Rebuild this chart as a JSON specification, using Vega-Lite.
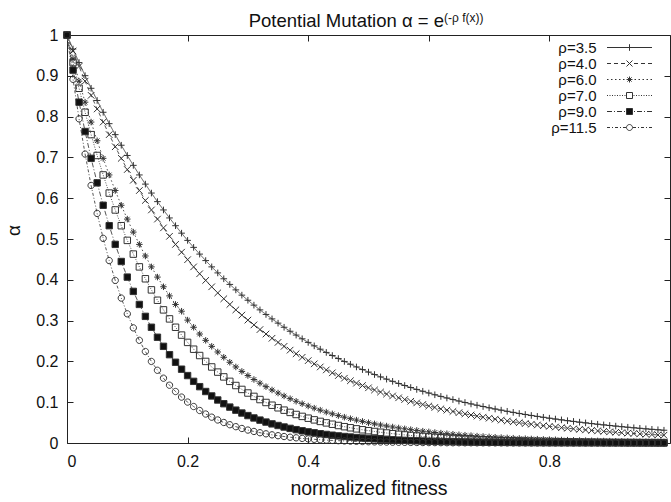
{
"$schema":"https://vega.github.io/schema/vega-lite/v6.json",
"width":603,"height":408,
"autosize":{"type":"none"},
"padding":{"left":67,"top":35,"right":1,"bottom":59},
"config":{
 "font":"Liberation Sans",
 "view":{"stroke":"#222","strokeWidth":1},
 "axis":{"grid":false,"domain":false,"tickColor":"#222","tickWidth":1,"tickSize":-6,"labelFontSize":16,"labelColor":"#111","titleFontWeight":"normal","titleFontSize":19.5,"titleColor":"#111"}
},
"data":{"values":[
{"s":"ρ=3.5","x":0,"y":1},{"s":"ρ=3.5","x":0.01,"y":0.9656},{"s":"ρ=3.5","x":0.02,"y":0.9324},{"s":"ρ=3.5","x":0.03,"y":0.9003},{"s":"ρ=3.5","x":0.04,"y":0.8694},{"s":"ρ=3.5","x":0.05,"y":0.8395},{"s":"ρ=3.5","x":0.06,"y":0.8106},{"s":"ρ=3.5","x":0.07,"y":0.7827},{"s":"ρ=3.5","x":0.08,"y":0.7558},{"s":"ρ=3.5","x":0.09,"y":0.7298},
{"s":"ρ=3.5","x":0.1,"y":0.7047},{"s":"ρ=3.5","x":0.11,"y":0.6805},{"s":"ρ=3.5","x":0.12,"y":0.657},{"s":"ρ=3.5","x":0.13,"y":0.6345},{"s":"ρ=3.5","x":0.14,"y":0.6126},{"s":"ρ=3.5","x":0.15,"y":0.5916},{"s":"ρ=3.5","x":0.16,"y":0.5712},{"s":"ρ=3.5","x":0.17,"y":0.5516},{"s":"ρ=3.5","x":0.18,"y":0.5326},{"s":"ρ=3.5","x":0.19,"y":0.5143},
{"s":"ρ=3.5","x":0.2,"y":0.4966},{"s":"ρ=3.5","x":0.21,"y":0.4795},{"s":"ρ=3.5","x":0.22,"y":0.463},{"s":"ρ=3.5","x":0.23,"y":0.4471},{"s":"ρ=3.5","x":0.24,"y":0.4317},{"s":"ρ=3.5","x":0.25,"y":0.4169},{"s":"ρ=3.5","x":0.26,"y":0.4025},{"s":"ρ=3.5","x":0.27,"y":0.3887},{"s":"ρ=3.5","x":0.28,"y":0.3753},{"s":"ρ=3.5","x":0.29,"y":0.3624},
{"s":"ρ=3.5","x":0.3,"y":0.3499},{"s":"ρ=3.5","x":0.31,"y":0.3379},{"s":"ρ=3.5","x":0.32,"y":0.3263},{"s":"ρ=3.5","x":0.33,"y":0.3151},{"s":"ρ=3.5","x":0.34,"y":0.3042},{"s":"ρ=3.5","x":0.35,"y":0.2938},{"s":"ρ=3.5","x":0.36,"y":0.2837},{"s":"ρ=3.5","x":0.37,"y":0.2739},{"s":"ρ=3.5","x":0.38,"y":0.2645},{"s":"ρ=3.5","x":0.39,"y":0.2554},
{"s":"ρ=3.5","x":0.4,"y":0.2466},{"s":"ρ=3.5","x":0.41,"y":0.2381},{"s":"ρ=3.5","x":0.42,"y":0.2299},{"s":"ρ=3.5","x":0.43,"y":0.222},{"s":"ρ=3.5","x":0.44,"y":0.2144},{"s":"ρ=3.5","x":0.45,"y":0.207},{"s":"ρ=3.5","x":0.46,"y":0.1999},{"s":"ρ=3.5","x":0.47,"y":0.193},{"s":"ρ=3.5","x":0.48,"y":0.1864},{"s":"ρ=3.5","x":0.49,"y":0.18},
{"s":"ρ=3.5","x":0.5,"y":0.1738},{"s":"ρ=3.5","x":0.51,"y":0.1678},{"s":"ρ=3.5","x":0.52,"y":0.162},{"s":"ρ=3.5","x":0.53,"y":0.1565},{"s":"ρ=3.5","x":0.54,"y":0.1511},{"s":"ρ=3.5","x":0.55,"y":0.1459},{"s":"ρ=3.5","x":0.56,"y":0.1409},{"s":"ρ=3.5","x":0.57,"y":0.136},{"s":"ρ=3.5","x":0.58,"y":0.1313},{"s":"ρ=3.5","x":0.59,"y":0.1268},
{"s":"ρ=3.5","x":0.6,"y":0.1225},{"s":"ρ=3.5","x":0.61,"y":0.1182},{"s":"ρ=3.5","x":0.62,"y":0.1142},{"s":"ρ=3.5","x":0.63,"y":0.1103},{"s":"ρ=3.5","x":0.64,"y":0.1065},{"s":"ρ=3.5","x":0.65,"y":0.1028},{"s":"ρ=3.5","x":0.66,"y":0.0993},{"s":"ρ=3.5","x":0.67,"y":0.0958},{"s":"ρ=3.5","x":0.68,"y":0.0926},{"s":"ρ=3.5","x":0.69,"y":0.0894},
{"s":"ρ=3.5","x":0.7,"y":0.0863},{"s":"ρ=3.5","x":0.71,"y":0.0833},{"s":"ρ=3.5","x":0.72,"y":0.0805},{"s":"ρ=3.5","x":0.73,"y":0.0777},{"s":"ρ=3.5","x":0.74,"y":0.075},{"s":"ρ=3.5","x":0.75,"y":0.0724},{"s":"ρ=3.5","x":0.76,"y":0.0699},{"s":"ρ=3.5","x":0.77,"y":0.0675},{"s":"ρ=3.5","x":0.78,"y":0.0652},{"s":"ρ=3.5","x":0.79,"y":0.063},
{"s":"ρ=3.5","x":0.8,"y":0.0608},{"s":"ρ=3.5","x":0.81,"y":0.0587},{"s":"ρ=3.5","x":0.82,"y":0.0567},{"s":"ρ=3.5","x":0.83,"y":0.0547},{"s":"ρ=3.5","x":0.84,"y":0.0529},{"s":"ρ=3.5","x":0.85,"y":0.051},{"s":"ρ=3.5","x":0.86,"y":0.0493},{"s":"ρ=3.5","x":0.87,"y":0.0476},{"s":"ρ=3.5","x":0.88,"y":0.046},{"s":"ρ=3.5","x":0.89,"y":0.0444},
{"s":"ρ=3.5","x":0.9,"y":0.0429},{"s":"ρ=3.5","x":0.91,"y":0.0414},{"s":"ρ=3.5","x":0.92,"y":0.04},{"s":"ρ=3.5","x":0.93,"y":0.0386},{"s":"ρ=3.5","x":0.94,"y":0.0373},{"s":"ρ=3.5","x":0.95,"y":0.036},{"s":"ρ=3.5","x":0.96,"y":0.0347},{"s":"ρ=3.5","x":0.97,"y":0.0335},{"s":"ρ=3.5","x":0.98,"y":0.0324},{"s":"ρ=3.5","x":0.99,"y":0.0313},
{"s":"ρ=4.0","x":0,"y":1},{"s":"ρ=4.0","x":0.01,"y":0.9608},{"s":"ρ=4.0","x":0.02,"y":0.9231},{"s":"ρ=4.0","x":0.03,"y":0.8869},{"s":"ρ=4.0","x":0.04,"y":0.8521},{"s":"ρ=4.0","x":0.05,"y":0.8187},{"s":"ρ=4.0","x":0.06,"y":0.7866},{"s":"ρ=4.0","x":0.07,"y":0.7558},{"s":"ρ=4.0","x":0.08,"y":0.7261},{"s":"ρ=4.0","x":0.09,"y":0.6977},
{"s":"ρ=4.0","x":0.1,"y":0.6703},{"s":"ρ=4.0","x":0.11,"y":0.644},{"s":"ρ=4.0","x":0.12,"y":0.6188},{"s":"ρ=4.0","x":0.13,"y":0.5945},{"s":"ρ=4.0","x":0.14,"y":0.5712},{"s":"ρ=4.0","x":0.15,"y":0.5488},{"s":"ρ=4.0","x":0.16,"y":0.5273},{"s":"ρ=4.0","x":0.17,"y":0.5066},{"s":"ρ=4.0","x":0.18,"y":0.4868},{"s":"ρ=4.0","x":0.19,"y":0.4677},
{"s":"ρ=4.0","x":0.2,"y":0.4493},{"s":"ρ=4.0","x":0.21,"y":0.4317},{"s":"ρ=4.0","x":0.22,"y":0.4148},{"s":"ρ=4.0","x":0.23,"y":0.3985},{"s":"ρ=4.0","x":0.24,"y":0.3829},{"s":"ρ=4.0","x":0.25,"y":0.3679},{"s":"ρ=4.0","x":0.26,"y":0.3535},{"s":"ρ=4.0","x":0.27,"y":0.3396},{"s":"ρ=4.0","x":0.28,"y":0.3263},{"s":"ρ=4.0","x":0.29,"y":0.3135},
{"s":"ρ=4.0","x":0.3,"y":0.3012},{"s":"ρ=4.0","x":0.31,"y":0.2894},{"s":"ρ=4.0","x":0.32,"y":0.278},{"s":"ρ=4.0","x":0.33,"y":0.2671},{"s":"ρ=4.0","x":0.34,"y":0.2567},{"s":"ρ=4.0","x":0.35,"y":0.2466},{"s":"ρ=4.0","x":0.36,"y":0.2369},{"s":"ρ=4.0","x":0.37,"y":0.2276},{"s":"ρ=4.0","x":0.38,"y":0.2187},{"s":"ρ=4.0","x":0.39,"y":0.2101},
{"s":"ρ=4.0","x":0.4,"y":0.2019},{"s":"ρ=4.0","x":0.41,"y":0.194},{"s":"ρ=4.0","x":0.42,"y":0.1864},{"s":"ρ=4.0","x":0.43,"y":0.1791},{"s":"ρ=4.0","x":0.44,"y":0.172},{"s":"ρ=4.0","x":0.45,"y":0.1653},{"s":"ρ=4.0","x":0.46,"y":0.1588},{"s":"ρ=4.0","x":0.47,"y":0.1526},{"s":"ρ=4.0","x":0.48,"y":0.1466},{"s":"ρ=4.0","x":0.49,"y":0.1409},
{"s":"ρ=4.0","x":0.5,"y":0.1353},{"s":"ρ=4.0","x":0.51,"y":0.13},{"s":"ρ=4.0","x":0.52,"y":0.1249},{"s":"ρ=4.0","x":0.53,"y":0.12},{"s":"ρ=4.0","x":0.54,"y":0.1153},{"s":"ρ=4.0","x":0.55,"y":0.1108},{"s":"ρ=4.0","x":0.56,"y":0.1065},{"s":"ρ=4.0","x":0.57,"y":0.1023},{"s":"ρ=4.0","x":0.58,"y":0.0983},{"s":"ρ=4.0","x":0.59,"y":0.0944},
{"s":"ρ=4.0","x":0.6,"y":0.0907},{"s":"ρ=4.0","x":0.61,"y":0.0872},{"s":"ρ=4.0","x":0.62,"y":0.0837},{"s":"ρ=4.0","x":0.63,"y":0.0805},{"s":"ρ=4.0","x":0.64,"y":0.0773},{"s":"ρ=4.0","x":0.65,"y":0.0743},{"s":"ρ=4.0","x":0.66,"y":0.0714},{"s":"ρ=4.0","x":0.67,"y":0.0686},{"s":"ρ=4.0","x":0.68,"y":0.0659},{"s":"ρ=4.0","x":0.69,"y":0.0633},
{"s":"ρ=4.0","x":0.7,"y":0.0608},{"s":"ρ=4.0","x":0.71,"y":0.0584},{"s":"ρ=4.0","x":0.72,"y":0.0561},{"s":"ρ=4.0","x":0.73,"y":0.0539},{"s":"ρ=4.0","x":0.74,"y":0.0518},{"s":"ρ=4.0","x":0.75,"y":0.0498},{"s":"ρ=4.0","x":0.76,"y":0.0478},{"s":"ρ=4.0","x":0.77,"y":0.046},{"s":"ρ=4.0","x":0.78,"y":0.0442},{"s":"ρ=4.0","x":0.79,"y":0.0424},
{"s":"ρ=4.0","x":0.8,"y":0.0408},{"s":"ρ=4.0","x":0.81,"y":0.0392},{"s":"ρ=4.0","x":0.82,"y":0.0376},{"s":"ρ=4.0","x":0.83,"y":0.0362},{"s":"ρ=4.0","x":0.84,"y":0.0347},{"s":"ρ=4.0","x":0.85,"y":0.0334},{"s":"ρ=4.0","x":0.86,"y":0.0321},{"s":"ρ=4.0","x":0.87,"y":0.0308},{"s":"ρ=4.0","x":0.88,"y":0.0296},{"s":"ρ=4.0","x":0.89,"y":0.0284},
{"s":"ρ=4.0","x":0.9,"y":0.0273},{"s":"ρ=4.0","x":0.91,"y":0.0263},{"s":"ρ=4.0","x":0.92,"y":0.0252},{"s":"ρ=4.0","x":0.93,"y":0.0242},{"s":"ρ=4.0","x":0.94,"y":0.0233},{"s":"ρ=4.0","x":0.95,"y":0.0224},{"s":"ρ=4.0","x":0.96,"y":0.0215},{"s":"ρ=4.0","x":0.97,"y":0.0207},{"s":"ρ=4.0","x":0.98,"y":0.0198},{"s":"ρ=4.0","x":0.99,"y":0.0191},
{"s":"ρ=6.0","x":0,"y":1},{"s":"ρ=6.0","x":0.01,"y":0.9418},{"s":"ρ=6.0","x":0.02,"y":0.8869},{"s":"ρ=6.0","x":0.03,"y":0.8353},{"s":"ρ=6.0","x":0.04,"y":0.7866},{"s":"ρ=6.0","x":0.05,"y":0.7408},{"s":"ρ=6.0","x":0.06,"y":0.6977},{"s":"ρ=6.0","x":0.07,"y":0.657},{"s":"ρ=6.0","x":0.08,"y":0.6188},{"s":"ρ=6.0","x":0.09,"y":0.5827},
{"s":"ρ=6.0","x":0.1,"y":0.5488},{"s":"ρ=6.0","x":0.11,"y":0.5169},{"s":"ρ=6.0","x":0.12,"y":0.4868},{"s":"ρ=6.0","x":0.13,"y":0.4584},{"s":"ρ=6.0","x":0.14,"y":0.4317},{"s":"ρ=6.0","x":0.15,"y":0.4066},{"s":"ρ=6.0","x":0.16,"y":0.3829},{"s":"ρ=6.0","x":0.17,"y":0.3606},{"s":"ρ=6.0","x":0.18,"y":0.3396},{"s":"ρ=6.0","x":0.19,"y":0.323},
{"s":"ρ=6.0","x":0.2,"y":0.3012},{"s":"ρ=6.0","x":0.21,"y":0.2837},{"s":"ρ=6.0","x":0.22,"y":0.2671},{"s":"ρ=6.0","x":0.23,"y":0.2516},{"s":"ρ=6.0","x":0.24,"y":0.2369},{"s":"ρ=6.0","x":0.25,"y":0.2231},{"s":"ρ=6.0","x":0.26,"y":0.2101},{"s":"ρ=6.0","x":0.27,"y":0.1979},{"s":"ρ=6.0","x":0.28,"y":0.1864},{"s":"ρ=6.0","x":0.29,"y":0.1755},
{"s":"ρ=6.0","x":0.3,"y":0.1653},{"s":"ρ=6.0","x":0.31,"y":0.1557},{"s":"ρ=6.0","x":0.32,"y":0.1466},{"s":"ρ=6.0","x":0.33,"y":0.1381},{"s":"ρ=6.0","x":0.34,"y":0.13},{"s":"ρ=6.0","x":0.35,"y":0.1225},{"s":"ρ=6.0","x":0.36,"y":0.1153},{"s":"ρ=6.0","x":0.37,"y":0.1086},{"s":"ρ=6.0","x":0.38,"y":0.1023},{"s":"ρ=6.0","x":0.39,"y":0.0963},
{"s":"ρ=6.0","x":0.4,"y":0.0907},{"s":"ρ=6.0","x":0.41,"y":0.0854},{"s":"ρ=6.0","x":0.42,"y":0.0805},{"s":"ρ=6.0","x":0.43,"y":0.0758},{"s":"ρ=6.0","x":0.44,"y":0.0714},{"s":"ρ=6.0","x":0.45,"y":0.0672},{"s":"ρ=6.0","x":0.46,"y":0.0633},{"s":"ρ=6.0","x":0.47,"y":0.0596},{"s":"ρ=6.0","x":0.48,"y":0.0561},{"s":"ρ=6.0","x":0.49,"y":0.0529},
{"s":"ρ=6.0","x":0.5,"y":0.0498},{"s":"ρ=6.0","x":0.51,"y":0.0469},{"s":"ρ=6.0","x":0.52,"y":0.0442},{"s":"ρ=6.0","x":0.53,"y":0.0416},{"s":"ρ=6.0","x":0.54,"y":0.0392},{"s":"ρ=6.0","x":0.55,"y":0.0369},{"s":"ρ=6.0","x":0.56,"y":0.0347},{"s":"ρ=6.0","x":0.57,"y":0.0327},{"s":"ρ=6.0","x":0.58,"y":0.0308},{"s":"ρ=6.0","x":0.59,"y":0.029},
{"s":"ρ=6.0","x":0.6,"y":0.0273},{"s":"ρ=6.0","x":0.61,"y":0.0257},{"s":"ρ=6.0","x":0.62,"y":0.0242},{"s":"ρ=6.0","x":0.63,"y":0.0228},{"s":"ρ=6.0","x":0.64,"y":0.0215},{"s":"ρ=6.0","x":0.65,"y":0.0202},{"s":"ρ=6.0","x":0.66,"y":0.0191},{"s":"ρ=6.0","x":0.67,"y":0.018},{"s":"ρ=6.0","x":0.68,"y":0.0169},{"s":"ρ=6.0","x":0.69,"y":0.0159},
{"s":"ρ=6.0","x":0.7,"y":0.015},{"s":"ρ=6.0","x":0.71,"y":0.0141},{"s":"ρ=6.0","x":0.72,"y":0.0133},{"s":"ρ=6.0","x":0.73,"y":0.0125},{"s":"ρ=6.0","x":0.74,"y":0.0118},{"s":"ρ=6.0","x":0.75,"y":0.0111},{"s":"ρ=6.0","x":0.76,"y":0.0105},{"s":"ρ=6.0","x":0.77,"y":0.0099},{"s":"ρ=6.0","x":0.78,"y":0.0093},{"s":"ρ=6.0","x":0.79,"y":0.0087},
{"s":"ρ=6.0","x":0.8,"y":0.0082},{"s":"ρ=6.0","x":0.81,"y":0.0078},{"s":"ρ=6.0","x":0.82,"y":0.0073},{"s":"ρ=6.0","x":0.83,"y":0.0069},{"s":"ρ=6.0","x":0.84,"y":0.0065},{"s":"ρ=6.0","x":0.85,"y":0.0061},{"s":"ρ=6.0","x":0.86,"y":0.0057},{"s":"ρ=6.0","x":0.87,"y":0.0054},{"s":"ρ=6.0","x":0.88,"y":0.0051},{"s":"ρ=6.0","x":0.89,"y":0.0048},
{"s":"ρ=6.0","x":0.9,"y":0.0045},{"s":"ρ=6.0","x":0.91,"y":0.0043},{"s":"ρ=6.0","x":0.92,"y":0.004},{"s":"ρ=6.0","x":0.93,"y":0.0038},{"s":"ρ=6.0","x":0.94,"y":0.0036},{"s":"ρ=6.0","x":0.95,"y":0.0033},{"s":"ρ=6.0","x":0.96,"y":0.0032},{"s":"ρ=6.0","x":0.97,"y":0.003},{"s":"ρ=6.0","x":0.98,"y":0.0028},{"s":"ρ=6.0","x":0.99,"y":0.0026},
{"s":"ρ=7.0","x":0,"y":1},{"s":"ρ=7.0","x":0.01,"y":0.9324},{"s":"ρ=7.0","x":0.02,"y":0.8694},{"s":"ρ=7.0","x":0.03,"y":0.8106},{"s":"ρ=7.0","x":0.04,"y":0.7558},{"s":"ρ=7.0","x":0.05,"y":0.7047},{"s":"ρ=7.0","x":0.06,"y":0.657},{"s":"ρ=7.0","x":0.07,"y":0.6126},{"s":"ρ=7.0","x":0.08,"y":0.5712},{"s":"ρ=7.0","x":0.09,"y":0.5326},
{"s":"ρ=7.0","x":0.1,"y":0.4966},{"s":"ρ=7.0","x":0.11,"y":0.463},{"s":"ρ=7.0","x":0.12,"y":0.4317},{"s":"ρ=7.0","x":0.13,"y":0.4025},{"s":"ρ=7.0","x":0.14,"y":0.3753},{"s":"ρ=7.0","x":0.15,"y":0.3499},{"s":"ρ=7.0","x":0.16,"y":0.3263},{"s":"ρ=7.0","x":0.17,"y":0.3042},{"s":"ρ=7.0","x":0.18,"y":0.2837},{"s":"ρ=7.0","x":0.19,"y":0.2645},
{"s":"ρ=7.0","x":0.2,"y":0.2466},{"s":"ρ=7.0","x":0.21,"y":0.2299},{"s":"ρ=7.0","x":0.22,"y":0.2144},{"s":"ρ=7.0","x":0.23,"y":0.1999},{"s":"ρ=7.0","x":0.24,"y":0.1864},{"s":"ρ=7.0","x":0.25,"y":0.1738},{"s":"ρ=7.0","x":0.26,"y":0.162},{"s":"ρ=7.0","x":0.27,"y":0.1511},{"s":"ρ=7.0","x":0.28,"y":0.1409},{"s":"ρ=7.0","x":0.29,"y":0.1313},
{"s":"ρ=7.0","x":0.3,"y":0.1225},{"s":"ρ=7.0","x":0.31,"y":0.1142},{"s":"ρ=7.0","x":0.32,"y":0.1065},{"s":"ρ=7.0","x":0.33,"y":0.0993},{"s":"ρ=7.0","x":0.34,"y":0.0926},{"s":"ρ=7.0","x":0.35,"y":0.0863},{"s":"ρ=7.0","x":0.36,"y":0.0805},{"s":"ρ=7.0","x":0.37,"y":0.075},{"s":"ρ=7.0","x":0.38,"y":0.0699},{"s":"ρ=7.0","x":0.39,"y":0.0652},
{"s":"ρ=7.0","x":0.4,"y":0.0608},{"s":"ρ=7.0","x":0.41,"y":0.0567},{"s":"ρ=7.0","x":0.42,"y":0.0529},{"s":"ρ=7.0","x":0.43,"y":0.0493},{"s":"ρ=7.0","x":0.44,"y":0.046},{"s":"ρ=7.0","x":0.45,"y":0.0429},{"s":"ρ=7.0","x":0.46,"y":0.04},{"s":"ρ=7.0","x":0.47,"y":0.0373},{"s":"ρ=7.0","x":0.48,"y":0.0347},{"s":"ρ=7.0","x":0.49,"y":0.0324},
{"s":"ρ=7.0","x":0.5,"y":0.0302},{"s":"ρ=7.0","x":0.51,"y":0.0282},{"s":"ρ=7.0","x":0.52,"y":0.0263},{"s":"ρ=7.0","x":0.53,"y":0.0245},{"s":"ρ=7.0","x":0.54,"y":0.0228},{"s":"ρ=7.0","x":0.55,"y":0.0213},{"s":"ρ=7.0","x":0.56,"y":0.0198},{"s":"ρ=7.0","x":0.57,"y":0.0185},{"s":"ρ=7.0","x":0.58,"y":0.0172},{"s":"ρ=7.0","x":0.59,"y":0.0161},
{"s":"ρ=7.0","x":0.6,"y":0.015},{"s":"ρ=7.0","x":0.61,"y":0.014},{"s":"ρ=7.0","x":0.62,"y":0.013},{"s":"ρ=7.0","x":0.63,"y":0.0122},{"s":"ρ=7.0","x":0.64,"y":0.0113},{"s":"ρ=7.0","x":0.65,"y":0.0106},{"s":"ρ=7.0","x":0.66,"y":0.0099},{"s":"ρ=7.0","x":0.67,"y":0.0092},{"s":"ρ=7.0","x":0.68,"y":0.0086},{"s":"ρ=7.0","x":0.69,"y":0.008},
{"s":"ρ=7.0","x":0.7,"y":0.0074},{"s":"ρ=7.0","x":0.71,"y":0.0069},{"s":"ρ=7.0","x":0.72,"y":0.0065},{"s":"ρ=7.0","x":0.73,"y":0.006},{"s":"ρ=7.0","x":0.74,"y":0.0056},{"s":"ρ=7.0","x":0.75,"y":0.0052},{"s":"ρ=7.0","x":0.76,"y":0.0049},{"s":"ρ=7.0","x":0.77,"y":0.0046},{"s":"ρ=7.0","x":0.78,"y":0.0043},{"s":"ρ=7.0","x":0.79,"y":0.004},
{"s":"ρ=7.0","x":0.8,"y":0.0037},{"s":"ρ=7.0","x":0.81,"y":0.0034},{"s":"ρ=7.0","x":0.82,"y":0.0032},{"s":"ρ=7.0","x":0.83,"y":0.003},{"s":"ρ=7.0","x":0.84,"y":0.0028},{"s":"ρ=7.0","x":0.85,"y":0.0026},{"s":"ρ=7.0","x":0.86,"y":0.0024},{"s":"ρ=7.0","x":0.87,"y":0.0023},{"s":"ρ=7.0","x":0.88,"y":0.0021},{"s":"ρ=7.0","x":0.89,"y":0.002},
{"s":"ρ=7.0","x":0.9,"y":0.0018},{"s":"ρ=7.0","x":0.91,"y":0.0017},{"s":"ρ=7.0","x":0.92,"y":0.0016},{"s":"ρ=7.0","x":0.93,"y":0.0015},{"s":"ρ=7.0","x":0.94,"y":0.0014},{"s":"ρ=7.0","x":0.95,"y":0.0013},{"s":"ρ=7.0","x":0.96,"y":0.0012},{"s":"ρ=7.0","x":0.97,"y":0.0011},{"s":"ρ=7.0","x":0.98,"y":0.001},{"s":"ρ=7.0","x":0.99,"y":0.001},
{"s":"ρ=9.0","x":0,"y":1},{"s":"ρ=9.0","x":0.01,"y":0.9139},{"s":"ρ=9.0","x":0.02,"y":0.8353},{"s":"ρ=9.0","x":0.03,"y":0.7634},{"s":"ρ=9.0","x":0.04,"y":0.6977},{"s":"ρ=9.0","x":0.05,"y":0.6376},{"s":"ρ=9.0","x":0.06,"y":0.5827},{"s":"ρ=9.0","x":0.07,"y":0.5326},{"s":"ρ=9.0","x":0.08,"y":0.4868},{"s":"ρ=9.0","x":0.09,"y":0.4449},
{"s":"ρ=9.0","x":0.1,"y":0.4066},{"s":"ρ=9.0","x":0.11,"y":0.3716},{"s":"ρ=9.0","x":0.12,"y":0.3396},{"s":"ρ=9.0","x":0.13,"y":0.3104},{"s":"ρ=9.0","x":0.14,"y":0.2837},{"s":"ρ=9.0","x":0.15,"y":0.2592},{"s":"ρ=9.0","x":0.16,"y":0.2369},{"s":"ρ=9.0","x":0.17,"y":0.2165},{"s":"ρ=9.0","x":0.18,"y":0.1979},{"s":"ρ=9.0","x":0.19,"y":0.1809},
{"s":"ρ=9.0","x":0.2,"y":0.1653},{"s":"ρ=9.0","x":0.21,"y":0.1511},{"s":"ρ=9.0","x":0.22,"y":0.1381},{"s":"ρ=9.0","x":0.23,"y":0.1262},{"s":"ρ=9.0","x":0.24,"y":0.1153},{"s":"ρ=9.0","x":0.25,"y":0.1054},{"s":"ρ=9.0","x":0.26,"y":0.0963},{"s":"ρ=9.0","x":0.27,"y":0.088},{"s":"ρ=9.0","x":0.28,"y":0.0805},{"s":"ρ=9.0","x":0.29,"y":0.0735},
{"s":"ρ=9.0","x":0.3,"y":0.0672},{"s":"ρ=9.0","x":0.31,"y":0.0614},{"s":"ρ=9.0","x":0.32,"y":0.0561},{"s":"ρ=9.0","x":0.33,"y":0.0513},{"s":"ρ=9.0","x":0.34,"y":0.0469},{"s":"ρ=9.0","x":0.35,"y":0.0429},{"s":"ρ=9.0","x":0.36,"y":0.0392},{"s":"ρ=9.0","x":0.37,"y":0.0358},{"s":"ρ=9.0","x":0.38,"y":0.0327},{"s":"ρ=9.0","x":0.39,"y":0.0299},
{"s":"ρ=9.0","x":0.4,"y":0.0273},{"s":"ρ=9.0","x":0.41,"y":0.025},{"s":"ρ=9.0","x":0.42,"y":0.0228},{"s":"ρ=9.0","x":0.43,"y":0.0209},{"s":"ρ=9.0","x":0.44,"y":0.0191},{"s":"ρ=9.0","x":0.45,"y":0.0174},{"s":"ρ=9.0","x":0.46,"y":0.0159},{"s":"ρ=9.0","x":0.47,"y":0.0146},{"s":"ρ=9.0","x":0.48,"y":0.0133},{"s":"ρ=9.0","x":0.49,"y":0.0122},
{"s":"ρ=9.0","x":0.5,"y":0.0111},{"s":"ρ=9.0","x":0.51,"y":0.0102},{"s":"ρ=9.0","x":0.52,"y":0.0093},{"s":"ρ=9.0","x":0.53,"y":0.0085},{"s":"ρ=9.0","x":0.54,"y":0.0078},{"s":"ρ=9.0","x":0.55,"y":0.0071},{"s":"ρ=9.0","x":0.56,"y":0.0065},{"s":"ρ=9.0","x":0.57,"y":0.0059},{"s":"ρ=9.0","x":0.58,"y":0.0054},{"s":"ρ=9.0","x":0.59,"y":0.0049},
{"s":"ρ=9.0","x":0.6,"y":0.0045},{"s":"ρ=9.0","x":0.61,"y":0.0041},{"s":"ρ=9.0","x":0.62,"y":0.0038},{"s":"ρ=9.0","x":0.63,"y":0.0034},{"s":"ρ=9.0","x":0.64,"y":0.0032},{"s":"ρ=9.0","x":0.65,"y":0.0029},{"s":"ρ=9.0","x":0.66,"y":0.0026},{"s":"ρ=9.0","x":0.67,"y":0.0024},{"s":"ρ=9.0","x":0.68,"y":0.0022},{"s":"ρ=9.0","x":0.69,"y":0.002},
{"s":"ρ=9.0","x":0.7,"y":0.0018},{"s":"ρ=9.0","x":0.71,"y":0.0017},{"s":"ρ=9.0","x":0.72,"y":0.0015},{"s":"ρ=9.0","x":0.73,"y":0.0014},{"s":"ρ=9.0","x":0.74,"y":0.0013},{"s":"ρ=9.0","x":0.75,"y":0.0012},{"s":"ρ=9.0","x":0.76,"y":0.0011},{"s":"ρ=9.0","x":0.77,"y":0.001},{"s":"ρ=9.0","x":0.78,"y":0.0009},{"s":"ρ=9.0","x":0.79,"y":0.0008},
{"s":"ρ=9.0","x":0.8,"y":0.0007},{"s":"ρ=9.0","x":0.81,"y":0.0007},{"s":"ρ=9.0","x":0.82,"y":0.0006},{"s":"ρ=9.0","x":0.83,"y":0.0006},{"s":"ρ=9.0","x":0.84,"y":0.0005},{"s":"ρ=9.0","x":0.85,"y":0.0005},{"s":"ρ=9.0","x":0.86,"y":0.0004},{"s":"ρ=9.0","x":0.87,"y":0.0004},{"s":"ρ=9.0","x":0.88,"y":0.0004},{"s":"ρ=9.0","x":0.89,"y":0.0003},
{"s":"ρ=9.0","x":0.9,"y":0.0003},{"s":"ρ=9.0","x":0.91,"y":0.0003},{"s":"ρ=9.0","x":0.92,"y":0.0003},{"s":"ρ=9.0","x":0.93,"y":0.0002},{"s":"ρ=9.0","x":0.94,"y":0.0002},{"s":"ρ=9.0","x":0.95,"y":0.0002},{"s":"ρ=9.0","x":0.96,"y":0.0002},{"s":"ρ=9.0","x":0.97,"y":0.0002},{"s":"ρ=9.0","x":0.98,"y":0.0001},{"s":"ρ=9.0","x":0.99,"y":0.0001},
{"s":"ρ=11.5","x":0,"y":1},{"s":"ρ=11.5","x":0.01,"y":0.8914},{"s":"ρ=11.5","x":0.02,"y":0.7945},{"s":"ρ=11.5","x":0.03,"y":0.7082},{"s":"ρ=11.5","x":0.04,"y":0.6313},{"s":"ρ=11.5","x":0.05,"y":0.5627},{"s":"ρ=11.5","x":0.06,"y":0.5016},{"s":"ρ=11.5","x":0.07,"y":0.4471},{"s":"ρ=11.5","x":0.08,"y":0.3985},{"s":"ρ=11.5","x":0.09,"y":0.3552},
{"s":"ρ=11.5","x":0.1,"y":0.3166},{"s":"ρ=11.5","x":0.11,"y":0.2822},{"s":"ρ=11.5","x":0.12,"y":0.2516},{"s":"ρ=11.5","x":0.13,"y":0.2242},{"s":"ρ=11.5","x":0.14,"y":0.1999},{"s":"ρ=11.5","x":0.15,"y":0.1782},{"s":"ρ=11.5","x":0.16,"y":0.1588},{"s":"ρ=11.5","x":0.17,"y":0.1416},{"s":"ρ=11.5","x":0.18,"y":0.1262},{"s":"ρ=11.5","x":0.19,"y":0.1125},
{"s":"ρ=11.5","x":0.2,"y":0.1003},{"s":"ρ=11.5","x":0.21,"y":0.0894},{"s":"ρ=11.5","x":0.22,"y":0.0797},{"s":"ρ=11.5","x":0.23,"y":0.071},{"s":"ρ=11.5","x":0.24,"y":0.0633},{"s":"ρ=11.5","x":0.25,"y":0.0564},{"s":"ρ=11.5","x":0.26,"y":0.0503},{"s":"ρ=11.5","x":0.27,"y":0.0448},{"s":"ρ=11.5","x":0.28,"y":0.04},{"s":"ρ=11.5","x":0.29,"y":0.0356},
{"s":"ρ=11.5","x":0.3,"y":0.0317},{"s":"ρ=11.5","x":0.31,"y":0.0283},{"s":"ρ=11.5","x":0.32,"y":0.0252},{"s":"ρ=11.5","x":0.33,"y":0.0225},{"s":"ρ=11.5","x":0.34,"y":0.02},{"s":"ρ=11.5","x":0.35,"y":0.0179},{"s":"ρ=11.5","x":0.36,"y":0.0159},{"s":"ρ=11.5","x":0.37,"y":0.0142},{"s":"ρ=11.5","x":0.38,"y":0.0127},{"s":"ρ=11.5","x":0.39,"y":0.0113},
{"s":"ρ=11.5","x":0.4,"y":0.0101},{"s":"ρ=11.5","x":0.41,"y":0.009},{"s":"ρ=11.5","x":0.42,"y":0.008},{"s":"ρ=11.5","x":0.43,"y":0.0071},{"s":"ρ=11.5","x":0.44,"y":0.0063},{"s":"ρ=11.5","x":0.45,"y":0.0057},{"s":"ρ=11.5","x":0.46,"y":0.005},{"s":"ρ=11.5","x":0.47,"y":0.0045},{"s":"ρ=11.5","x":0.48,"y":0.004},{"s":"ρ=11.5","x":0.49,"y":0.0036},
{"s":"ρ=11.5","x":0.5,"y":0.0032},{"s":"ρ=11.5","x":0.51,"y":0.0028},{"s":"ρ=11.5","x":0.52,"y":0.0025},{"s":"ρ=11.5","x":0.53,"y":0.0023},{"s":"ρ=11.5","x":0.54,"y":0.002},{"s":"ρ=11.5","x":0.55,"y":0.0018},{"s":"ρ=11.5","x":0.56,"y":0.0016},{"s":"ρ=11.5","x":0.57,"y":0.0014},{"s":"ρ=11.5","x":0.58,"y":0.0013},{"s":"ρ=11.5","x":0.59,"y":0.0011},
{"s":"ρ=11.5","x":0.6,"y":0.001},{"s":"ρ=11.5","x":0.61,"y":0.0009},{"s":"ρ=11.5","x":0.62,"y":0.0008},{"s":"ρ=11.5","x":0.63,"y":0.0007},{"s":"ρ=11.5","x":0.64,"y":0.0006},{"s":"ρ=11.5","x":0.65,"y":0.0006},{"s":"ρ=11.5","x":0.66,"y":0.0005},{"s":"ρ=11.5","x":0.67,"y":0.0005},{"s":"ρ=11.5","x":0.68,"y":0.0004},{"s":"ρ=11.5","x":0.69,"y":0.0004},
{"s":"ρ=11.5","x":0.7,"y":0.0003},{"s":"ρ=11.5","x":0.71,"y":0.0003},{"s":"ρ=11.5","x":0.72,"y":0.0003},{"s":"ρ=11.5","x":0.73,"y":0.0002},{"s":"ρ=11.5","x":0.74,"y":0.0002},{"s":"ρ=11.5","x":0.75,"y":0.0002},{"s":"ρ=11.5","x":0.76,"y":0.0002},{"s":"ρ=11.5","x":0.77,"y":0.0001},{"s":"ρ=11.5","x":0.78,"y":0.0001},{"s":"ρ=11.5","x":0.79,"y":0.0001},
{"s":"ρ=11.5","x":0.8,"y":0.0001},{"s":"ρ=11.5","x":0.81,"y":0.0001},{"s":"ρ=11.5","x":0.82,"y":0.0001},{"s":"ρ=11.5","x":0.83,"y":0.0001},{"s":"ρ=11.5","x":0.84,"y":0.0001},{"s":"ρ=11.5","x":0.85,"y":0.0001},{"s":"ρ=11.5","x":0.86,"y":0.0001},{"s":"ρ=11.5","x":0.87,"y":0},{"s":"ρ=11.5","x":0.88,"y":0},{"s":"ρ=11.5","x":0.89,"y":0},
{"s":"ρ=11.5","x":0.9,"y":0},{"s":"ρ=11.5","x":0.91,"y":0},{"s":"ρ=11.5","x":0.92,"y":0},{"s":"ρ=11.5","x":0.93,"y":0},{"s":"ρ=11.5","x":0.94,"y":0},{"s":"ρ=11.5","x":0.95,"y":0},{"s":"ρ=11.5","x":0.96,"y":0},{"s":"ρ=11.5","x":0.97,"y":0},{"s":"ρ=11.5","x":0.98,"y":0},{"s":"ρ=11.5","x":0.99,"y":0}
]},
"layer":[
{"mark":{"type":"line","strokeWidth":1,"color":"#555"},
 "encoding":{
  "x":{"field":"x","type":"quantitative","scale":{"domain":[0,1],"nice":false},"axis":{"orient":"bottom","values":[0,0.2,0.4,0.6,0.8],"format":"~g","labelPadding":16,"title":"normalized fitness","titleBaseline":"alphabetic","titleY":51}},
  "y":{"field":"y","type":"quantitative","scale":{"domain":[0,1],"nice":false},"axis":{"orient":"left","values":[0,0.1,0.2,0.3,0.4,0.5,0.6,0.7,0.8,0.9,1],"format":"~g","labelPadding":15,"title":"α","titleFontSize":19,"titleX":-54,"titleY":195,"titleBaseline":"middle","titleAlign":"center"}},
  "strokeDash":{"field":"s","type":"nominal","scale":{"domain":["ρ=3.5","ρ=4.0","ρ=6.0","ρ=7.0","ρ=9.0","ρ=11.5"],"range":[[1,0],[4,3],[1.5,2.5],[1,1.5],[5,2,1,2],[3,2,1,2]]},"legend":null}
 }},
{"mark":{"type":"point","filled":true,"stroke":"#333","strokeWidth":1,"opacity":1},
 "encoding":{
  "x":{"field":"x","type":"quantitative","scale":{"domain":[0,1],"nice":false},"axis":{"orient":"top","values":[0,0.2,0.4,0.6,0.8,1],"labels":false,"title":null}},
  "y":{"field":"y","type":"quantitative","scale":{"domain":[0,1],"nice":false},"axis":{"orient":"right","values":[0,0.1,0.2,0.3,0.4,0.5,0.6,0.7,0.8,0.9,1],"labels":false,"title":null}},
  "shape":{"field":"s","type":"nominal","scale":{"domain":["ρ=3.5","ρ=4.0","ρ=6.0","ρ=7.0","ρ=9.0","ρ=11.5"],"range":["M-1,0H1M0,-1V1","M-1,-1L1,1M-1,1L1,-1","M-1,0H1M0,-1V1M-0.7,-0.7L0.7,0.7M-0.7,0.7L0.7,-0.7","M-1,-1H1V1H-1Z","M-1,-1H1V1H-1Z","M1,0A1,1 0 1,1 -1,0A1,1 0 1,1 1,0Z"]},"legend":null},
  "size":{"field":"s","type":"nominal","scale":{"domain":["ρ=3.5","ρ=4.0","ρ=6.0","ρ=7.0","ρ=9.0","ρ=11.5"],"range":[44,40,40,40,50,38]},"legend":null},
  "fill":{"field":"s","type":"nominal","scale":{"domain":["ρ=3.5","ρ=4.0","ρ=6.0","ρ=7.0","ρ=9.0","ρ=11.5"],"range":["transparent","transparent","transparent","transparent","#111","transparent"]},"legend":null}
 }},
{"transform":[{"filter":{"field":"x","lt":0}}],
 "mark":{"type":"point","filled":true,"stroke":"#333","strokeWidth":1},
 "encoding":{
  "x":{"field":"x","type":"quantitative","scale":{"domain":[0,1],"nice":false},"axis":null},
  "y":{"field":"y","type":"quantitative","scale":{"domain":[0,1],"nice":false},"axis":null},
  "shape":{"field":"s","type":"nominal","scale":{"domain":["ρ=3.5","ρ=4.0","ρ=6.0","ρ=7.0","ρ=9.0","ρ=11.5"],"range":[
   "M-7.5,0H7.5M0,-1.1V1.1",
   "M-7.5,0H-6.17M-5.17,0H-3.83M-2.83,0H-1.5M1.5,0H2.83M3.83,0H5.17M6.17,0H7.5M-1,-1L1,1M-1,1L1,-1",
   "M-7.5,0H-7M-6.17,0H-5.67M-4.83,0H-4.33M-3.5,0H-3M-2.17,0H-1.67M1.67,0H2.17M3,0H3.5M4.33,0H4.83M5.67,0H6.17M7,0H7.5M-1,0H1M0,-1V1M-0.7,-0.7L0.7,0.7M-0.7,0.7L0.7,-0.7",
   "M-7.5,0H-7.17M-6.67,0H-6.33M-5.83,0H-5.5M-5,0H-4.67M-4.17,0H-3.83M-3.33,0H-3M-2.5,0H-2.17M-1.67,0H-1.33M1.33,0H1.67M2.17,0H2.5M3,0H3.33M3.83,0H4.17M4.67,0H5M5.5,0H5.83M6.33,0H6.67M7.17,0H7.5M-1,-1H1V1H-1Z",
   "M-7.5,0H-5.83M-5.17,0H-4.83M-4.17,0H-2.5M-1.83,0H-1.5M1.5,0H1.83M2.5,0H4.17M4.83,0H5.17M5.83,0H7.5M-1,-1H1V1H-1Z",
   "M-7.5,0H-6.5M-5.83,0H-5.5M-4.83,0H-3.83M-3.17,0H-2.83M-2.17,0H-1.17M1.17,0H2.17M2.83,0H3.17M3.83,0H4.83M5.5,0H5.83M6.5,0H7.5M1,0A1,1 0 1,1 -1,0A1,1 0 1,1 1,0Z"]},
   "legend":{"title":null,"orient":"none","legendX":555,"legendY":5,"direction":"vertical","labelAlign":"right","labelOffset":-40.5,"labelFontSize":15,"labelColor":"#111","symbolSize":36,"symbolStrokeColor":"#333","symbolStrokeWidth":1,"symbolOpacity":1,"rowPadding":0,"padding":0,
     "encode":{"symbols":{"update":{"stroke":{"value":"#333"},"strokeWidth":{"value":1},"opacity":{"value":1}}}}}},
  "fill":{"field":"s","type":"nominal","scale":{"domain":["ρ=3.5","ρ=4.0","ρ=6.0","ρ=7.0","ρ=9.0","ρ=11.5"],"range":["transparent","transparent","transparent","transparent","#111","transparent"]},
   "legend":{"title":null,"orient":"none","legendX":555,"legendY":5,"direction":"vertical","labelAlign":"right","labelOffset":-40.5,"labelFontSize":15,"labelColor":"#111","symbolSize":36,"symbolStrokeColor":"#333","symbolStrokeWidth":1,"symbolOpacity":1,"rowPadding":0,"padding":0,
     "encode":{"symbols":{"update":{"stroke":{"value":"#333"},"strokeWidth":{"value":1},"opacity":{"value":1}}}}}}
 }},
{"data":{"values":[{"t":"Potential Mutation α = e"}]},
 "mark":{"type":"text","align":"right","baseline":"alphabetic","fontSize":18.5,"color":"#111"},
 "encoding":{
  "x":{"datum":0.6252,"type":"quantitative","scale":{"domain":[0,1],"nice":false},"axis":null},
  "y":{"datum":1.0196,"type":"quantitative","scale":{"domain":[0,1],"nice":false},"axis":null},
  "text":{"field":"t"}
 }},
{"data":{"values":[{"t":"(-ρ f(x))"}]},
 "mark":{"type":"text","align":"left","baseline":"alphabetic","fontSize":12,"color":"#111"},
 "encoding":{
  "x":{"datum":0.6252,"type":"quantitative","scale":{"domain":[0,1],"nice":false},"axis":null},
  "y":{"datum":1.0319,"type":"quantitative","scale":{"domain":[0,1],"nice":false},"axis":null},
  "text":{"field":"t"}
 }}
],
"resolve":{"scale":{"shape":"independent","fill":"independent","size":"independent"},"axis":{"x":"independent","y":"independent"}}
}
